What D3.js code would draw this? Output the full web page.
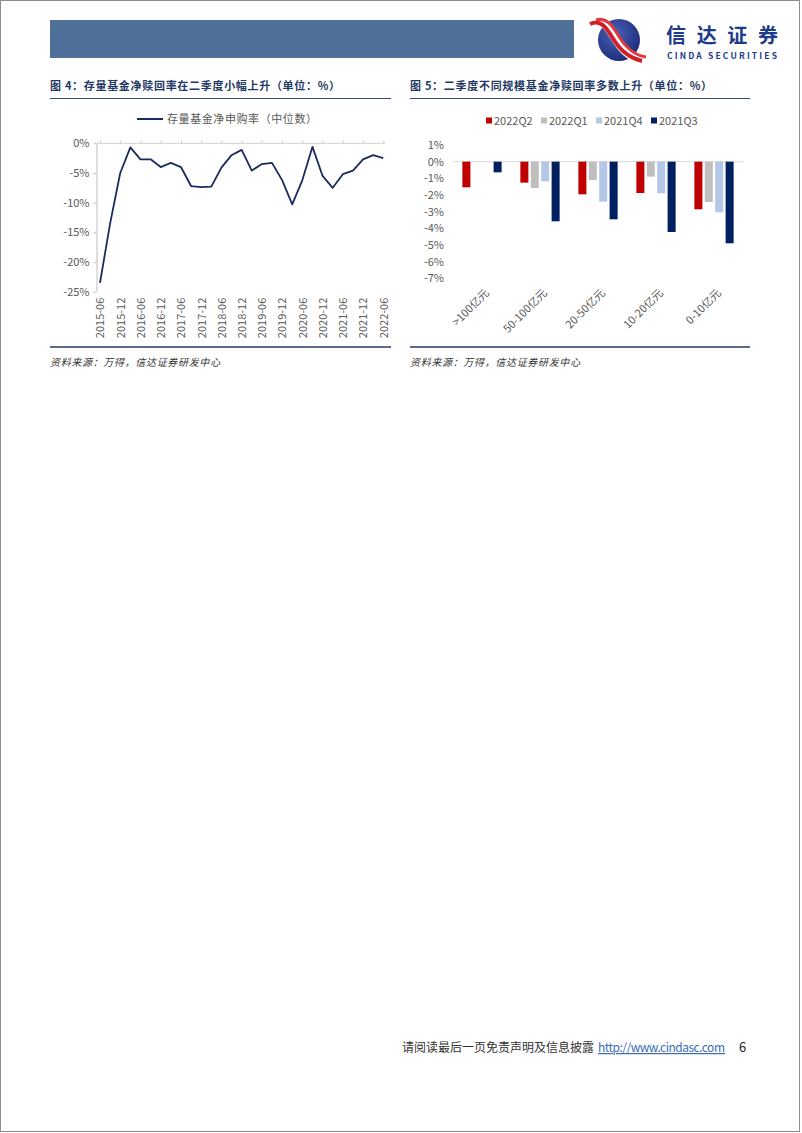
<!DOCTYPE html>
<html><head><meta charset="utf-8">
<script src="https://cdn.jsdelivr.net/npm/d3@7"></script>
<style>
body{margin:0;background:#fff;}
svg{display:block;}
text{font-family:"Noto Sans CJK SC","Noto Sans",sans-serif;}
</style></head>
<body>
<svg id="page" width="802" height="1133"></svg>
<script>
// ---------- DATA ----------
const lineDates = ["2015-06","2015-09","2015-12","2016-03","2016-06","2016-09","2016-12","2017-03","2017-06","2017-09","2017-12","2018-03","2018-06","2018-09","2018-12","2019-03","2019-06","2019-09","2019-12","2020-03","2020-06","2020-09","2020-12","2021-03","2021-06","2021-09","2021-12","2022-03","2022-06"];
const lineValues = [-23.5,-13.5,-5.0,-0.7,-2.7,-2.7,-4.0,-3.3,-4.0,-7.2,-7.4,-7.3,-4.1,-2.0,-1.1,-4.6,-3.5,-3.3,-6.2,-10.3,-6.2,-0.6,-5.5,-7.5,-5.2,-4.6,-2.7,-2.0,-2.5];
const lineTickLabels = ["2015-06","2015-12","2016-06","2016-12","2017-06","2017-12","2018-06","2018-12","2019-06","2019-12","2020-06","2020-12","2021-06","2021-12","2022-06"];
const lineYTicks = [0,-5,-10,-15,-20,-25];
const lineLegend = "存量基金净申购率（中位数）";

const barCategories = [">100亿元","50-100亿元","20-50亿元","10-20亿元","0-10亿元"];
const barSeries = ["2022Q2","2022Q1","2021Q4","2021Q3"];
const s2022Q2 = [-1.54,-1.26,-1.96,-1.88,-2.86];
const s2022Q1 = [null,-1.58,-1.10,-0.90,-2.42];
const s2021Q4 = [null,-1.18,-2.40,-1.90,-3.04];
const s2021Q3 = [-0.64,-3.58,-3.46,-4.22,-4.90];
const barYTicks = [1,0,-1,-2,-3,-4,-5,-6,-7];

const title4 = "图 4：存量基金净赎回率在二季度小幅上升（单位：%）";
const title5 = "图 5：二季度不同规模基金净赎回率多数上升（单位：%）";
const sourceText = "资料来源：万得，信达证券研发中心";

// ---------- PAGE ----------
const svg = d3.select("#page");
svg.append("rect").attr("x",0.5).attr("y",0.5).attr("width",799).attr("height",1131)
  .attr("fill","#fff").attr("stroke","#8c8c8c").attr("stroke-width",1);

// header bar
svg.append("rect").attr("x",50).attr("y",20).attr("width",524).attr("height",38).attr("fill","#4f7199");

// logo
const logo = svg.append("g");
const grad = svg.append("defs").append("radialGradient").attr("id","lg").attr("cx","40%").attr("cy","35%").attr("r","70%");
grad.append("stop").attr("offset","0%").attr("stop-color","#4a63b8");
grad.append("stop").attr("offset","100%").attr("stop-color","#1a2a78");
logo.append("circle").attr("cx",619).attr("cy",40).attr("r",21).attr("fill","url(#lg)");
logo.append("path").attr("d","M592,22 C602,18 608,26 614,36 C620,46 628,58 644,60")
  .attr("fill","none").attr("stroke","#fff").attr("stroke-width",9);
logo.append("path").attr("d","M590,24 C600,19 606,27 612,37 C618,47 626,57 642,61")
  .attr("fill","none").attr("stroke","#d21f26").attr("stroke-width",4);
logo.append("path").attr("d","M596,20 C606,17 612,25 618,35 C624,45 632,55 646,57")
  .attr("fill","none").attr("stroke","#e0393f").attr("stroke-width",3);
svg.append("text").attr("x",666).attr("y",43).attr("font-size",20).attr("font-weight",700)
  .attr("fill","#1e3a8a").attr("textLength",112).text("信达证券");
svg.append("text").attr("x",667).attr("y",58.5).attr("font-size",8.5).attr("font-weight",700)
  .attr("font-family","Liberation Sans, Arial, sans-serif").attr("fill","#1e3a8a").attr("textLength",110).text("CINDA SECURITIES");

// footer
svg.append("text").attr("x",402).attr("y",1052).attr("font-size",12).attr("fill","#333").attr("textLength",192).text("请阅读最后一页免责声明及信息披露");
svg.append("text").attr("x",598).attr("y",1052).attr("font-size",12).attr("fill","#3b6cb5")
  .attr("font-family","Liberation Sans, Arial, sans-serif").attr("text-decoration","underline")
  .attr("textLength",127).text("http://www.cindasc.com");
svg.append("text").attr("x",739).attr("y",1052).attr("font-size",13).attr("fill","#222")
  .attr("font-family","Liberation Sans, Arial, sans-serif").text("6");

const navy = "#1f3864";
function chartFrame(x0, x1, title, tw) {
  svg.append("text").attr("x",x0).attr("y",90).attr("font-size",11).attr("font-weight",700)
    .attr("fill",navy).attr("textLength",tw).text(title);
  svg.append("line").attr("x1",x0).attr("x2",x1).attr("y1",98.5).attr("y2",98.5).attr("stroke","#3a4a70").attr("stroke-width",1.2);
  svg.append("line").attr("x1",x0).attr("x2",x1).attr("y1",347).attr("y2",347).attr("stroke","#2a3a66").attr("stroke-width",1.5);
  svg.append("text").attr("x",x0).attr("y",366).attr("font-size",10).attr("font-style","italic")
    .attr("fill","#333").attr("textLength",170).text(sourceText);
}
chartFrame(50, 391, title4, 290);
chartFrame(410, 750, title5, 302);

// ---------- LEFT LINE CHART ----------
const gL = svg.append("g");
const xL = d3.scalePoint().domain(lineDates).range([100, 383.3]);
const yL = d3.scaleLinear().domain([-25, 0]).range([291.7, 143.3]);
const pct = d => (d < 0 ? "-" + Math.abs(d) : d) + "%";

// y axis
const yAx = gL.append("g").attr("transform","translate(96.5,0)")
  .call(d3.axisLeft(yL).tickValues(lineYTicks).tickFormat(pct).tickSize(3).tickSizeOuter(0));
yAx.select(".domain").attr("stroke","#bfbfbf");
yAx.selectAll(".tick line").attr("stroke","#bfbfbf");
yAx.selectAll("text").attr("font-size",11).attr("fill","#595959")
  .attr("font-family","Liberation Sans, Arial, sans-serif").attr("x",-7);

// zero axis line with upward ticks
const zAx = gL.append("g").attr("transform",`translate(0,${yL(0)})`)
  .call(d3.axisTop(xL).tickValues(lineTickLabels).tickSize(3).tickSizeOuter(0).tickFormat(""));
zAx.select(".domain").attr("d",`M95,0H385`).attr("stroke","#d0d0d0");
zAx.selectAll(".tick line").attr("stroke","#d0d0d0");

// bottom labels
const bAx = gL.append("g").attr("transform",`translate(0,${yL(-25)})`)
  .call(d3.axisBottom(xL).tickValues(lineTickLabels).tickSize(0));
bAx.select(".domain").remove();
bAx.selectAll("text").attr("transform","rotate(-90)").attr("x",-6).attr("y",0).attr("dy","0.35em")
  .attr("text-anchor","end").attr("font-size",11).attr("fill","#595959")
  .attr("font-family","Liberation Sans, Arial, sans-serif");

gL.append("path").datum(lineValues.map((v,i)=>[lineDates[i],v]))
  .attr("fill","none").attr("stroke","#1c2b5e").attr("stroke-width",1.8)
  .attr("stroke-linejoin","round")
  .attr("d", d3.line().x(d=>xL(d[0])).y(d=>yL(d[1])));

// legend
gL.append("line").attr("x1",137).attr("x2",163).attr("y1",119).attr("y2",119).attr("stroke","#1c2b5e").attr("stroke-width",2);
gL.append("text").attr("x",167).attr("y",123).attr("font-size",11).attr("fill","#595959")
  .attr("textLength",150).text(lineLegend);

// ---------- RIGHT BAR CHART ----------
const gR = svg.append("g");
const xR = d3.scaleBand().domain(barCategories).range([453, 743]);
const xS = d3.scaleBand().domain(barSeries).range([0, xR.bandwidth()]).paddingInner(0.23).paddingOuter(0.9);
const yR = d3.scaleLinear().domain([-7, 1]).range([278.3, 145]);
const colors = {"2022Q2":"#c00000","2022Q1":"#bfbfbf","2021Q4":"#b4c7e7","2021Q3":"#002060"};
const seriesVals = {"2022Q2":s2022Q2,"2022Q1":s2022Q1,"2021Q4":s2021Q4,"2021Q3":s2021Q3};

const yRAx = gR.append("g").attr("transform","translate(446,0)")
  .call(d3.axisLeft(yR).tickValues(barYTicks).tickFormat(pct).tickSize(0));
yRAx.select(".domain").remove();
yRAx.selectAll("text").attr("font-size",11).attr("fill","#595959")
  .attr("font-family","Liberation Sans, Arial, sans-serif").attr("x",-2);

gR.append("line").attr("x1",453).attr("x2",743).attr("y1",yR(0)).attr("y2",yR(0)).attr("stroke","#d9d9d9").attr("stroke-width",1);

barSeries.forEach(s => {
  const data = barCategories.map((c,i)=>({c, v: seriesVals[s][i]})).filter(d=>d.v!==null);
  gR.append("g").selectAll("rect").data(data).join("rect")
    .attr("x", d => xR(d.c) + xS(s))
    .attr("width", xS.bandwidth())
    .attr("y", d => yR(Math.max(0,d.v)))
    .attr("height", d => Math.abs(yR(d.v) - yR(0)))
    .attr("fill", colors[s]);
});

// category labels rotated -45
const cAx = gR.append("g").attr("transform","translate(0,291)")
  .call(d3.axisBottom(xR).tickSize(0));
cAx.select(".domain").remove();
cAx.selectAll(".tick text").attr("transform","translate(5,0) rotate(-45)").attr("x",0).attr("y",0).attr("dy","0.35em")
  .attr("text-anchor","end").attr("font-size",11).attr("fill","#595959");

// legend
const lg = gR.append("g");
const legX = [486, 541, 596, 651];
barSeries.forEach((s,i)=>{
  lg.append("rect").attr("x",legX[i]).attr("y",117.5).attr("width",6).attr("height",6).attr("fill",colors[s]);
  lg.append("text").attr("x",legX[i]+8).attr("y",124.5).attr("font-size",11).attr("fill","#595959")
    .attr("font-family","Liberation Sans, Arial, sans-serif").text(s);
});
</script>
</body></html>
